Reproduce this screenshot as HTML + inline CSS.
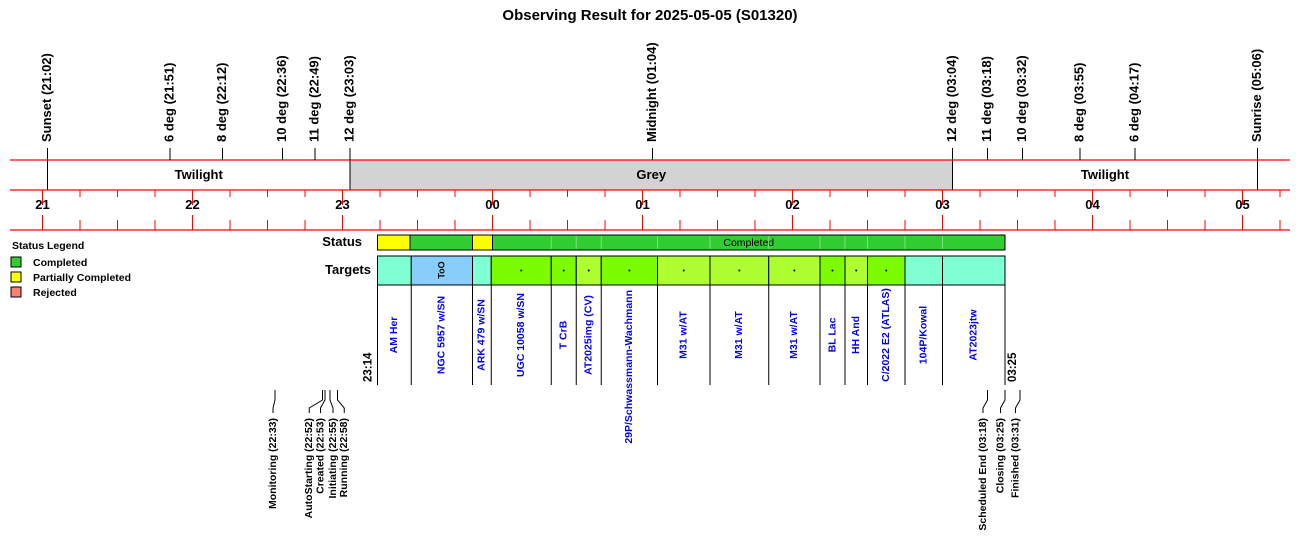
<!DOCTYPE html>
<html><head><meta charset="utf-8">
<style>
body{margin:0;background:#fff;}
svg{display:block;font-family:"Liberation Sans",Arial,sans-serif;}
</style></head>
<body>
<svg id="chart" width="1300" height="560">
<text x="650" y="20" text-anchor="middle" font-size="15" font-weight="bold">Observing Result for 2025-05-05 (S01320)</text>
<g id="legend">
<text x="12" y="249" font-size="10.5" font-weight="bold">Status Legend</text>
<rect x="11" y="257" width="10" height="10" fill="#32CD32" stroke="#000"/>
<text x="33" y="266" font-size="10.5" font-weight="bold">Completed</text>
<rect x="11" y="272" width="10" height="10" fill="#FFFF00" stroke="#000"/>
<text x="33" y="281" font-size="10.5" font-weight="bold">Partially Completed</text>
<rect x="11" y="287" width="10" height="10" fill="#FA8072" stroke="#000"/>
<text x="33" y="296" font-size="10.5" font-weight="bold">Rejected</text>
</g>
<text x="362" y="246" text-anchor="end" font-size="13" font-weight="bold">Status</text>
<text x="371" y="274" text-anchor="end" font-size="13" font-weight="bold">Targets</text>
</svg>
<script>
// time in minutes since 21:00
const hourLabels = ["21","22","23","00","01","02","03","04","05"];
const sunEvents = [["Sunset (21:02)",2],["6 deg (21:51)",51],["8 deg (22:12)",72],["10 deg (22:36)",96],["11 deg (22:49)",109],["12 deg (23:03)",123],["Midnight (01:04)",244],["12 deg (03:04)",364],["11 deg (03:18)",378],["10 deg (03:32)",392],["8 deg (03:55)",415],["6 deg (04:17)",437],["Sunrise (05:06)",486]];
const phases = [["Twilight",2,123,"#fff"],["Grey",123,364,"#D3D3D3"],["Twilight",364,486,"#fff"]];
const statusSegs = [[134,147,"#FFFF00",""],[147,172,"#32CD32",""],[172,180,"#FFFF00",""],[180,385,"#32CD32","Completed"]];
const targetNames = ["AM Her","NGC 5957 w/SN","ARK 479 w/SN","UGC 10058 w/SN","T CrB","AT2025img (CV)","29P/Schwassmann-Wachmann","M31 w/AT","M31 w/AT","M31 w/AT","BL Lac","HH And","C/2022 E2 (ATLAS)","104P/Kowal","AT2023jtw"];
const targetStarts = [134,147.5,172,179.5,203.5,213.5,223.5,246,267,290.5,311,321,330,345,360];
const targetEnd = 385;
const targetKinds = ["base","too","base","lg","lg","gy","lg","gy","gy","gy","lg","gy","lg","base","base"];
const eventsLow = [["Monitoring (22:33)",93,93],["AutoStarting (22:52)",112,107.5],["Created (22:53)",113,112],["Initiating (22:55)",115,117],["Running (22:58)",118,121.5],["Scheduled End (03:18)",378,377],["Closing (03:25)",385,384],["Finished (03:31)",391,390]];
const obsStart = ["23:14",134], obsEnd = ["03:25",385];

const svg = document.getElementById('chart');
const NS = "http://www.w3.org/2000/svg";
const X = m => 42.5 + 2.5*m;
function mk(tag, attrs, parent){const e=document.createElementNS(NS,tag);for(const k in attrs)e.setAttribute(k,attrs[k]);(parent||svg).appendChild(e);return e;}
function vtext(x,y,str,anchor,size,fill){const t=mk('text',{transform:`translate(${x},${y}) rotate(-90)`,'text-anchor':anchor,'font-size':size,'font-weight':'bold',fill:fill||'#000','dominant-baseline':'middle'});t.textContent=str;return t;}

// phase row
phases.forEach(p=>{
  const r=mk('rect',{x:X(p[1]),y:160,width:X(p[2])-X(p[1]),height:30,fill:p[3]});
  
  
  const t=mk('text',{x:(X(p[1])+X(p[2]))/2,y:179,'text-anchor':'middle','font-size':13,'font-weight':'bold'});t.textContent=p[0];
  
  
});
[2,123,364,486].forEach(m=>{const l=mk('line',{x1:X(m),x2:X(m),y1:160,y2:190,stroke:'#000'});
  
  });
[160,190,230].forEach(y=>{const l=mk('line',{x1:10,x2:1290,y1:y,y2:y,stroke:'#f00','stroke-width':1.2});
  
  });
// sun events
sunEvents.forEach(e=>{
  const l=mk('line',{x1:X(e[1]),x2:X(e[1]),y1:148,y2:160,stroke:'#000'});
  
  
  const t=vtext(X(e[1]),142,e[0],'start',13);
  
  
});
// time axis ticks
for(let q=-3;q<=34;q++){
  const m=q*15, x=X(m); if(x<10||x>1290) continue;
  const major=q%4===0;
  const a=mk('line',{x1:x,x2:x,y1:190,y2:major?205:197,stroke:'#f00'});
  
  
  const b=mk('line',{x1:x,x2:x,y1:major?215:220,y2:230,stroke:'#f00'});
  
  
}
hourLabels.forEach((h,i)=>{const t=mk('text',{x:X(i*60),y:209,'text-anchor':'middle','font-size':13,'font-weight':'bold'});t.textContent=h;
  
  });
// status bar
statusSegs.forEach(s=>{
  const r=mk('rect',{x:X(s[0]),y:235,width:X(s[1])-X(s[0]),height:15,fill:s[2],stroke:'#000'});
  
  
  if(s[3]){const t=mk('text',{x:(X(s[0])+X(s[1]))/2,y:246,'text-anchor':'middle','font-size':10.5});t.textContent=s[3];
    
    }
});
targetStarts.forEach((s,i)=>{if(X(s)>X(180)+1){const l=mk('line',{x1:X(s),x2:X(s),y1:236,y2:249,stroke:'#7ee07e'});
  
  }});
// targets
const kindColor={base:'#7FFFD4',too:'#87CEFA',lg:'#7CFC00',gy:'#ADFF2F'};
targetNames.forEach((n,i)=>{
  const s=targetStarts[i], e=i+1<targetStarts.length?targetStarts[i+1]:targetEnd;
  const x0=X(s), x1=X(e), cx=(x0+x1)/2;
  const r=mk('rect',{x:x0,y:256,width:x1-x0,height:29,fill:kindColor[targetKinds[i]],stroke:'#000'});
  
  
  if(targetKinds[i]==='too'){const t=vtext(cx,270,'ToO','middle',9);
    
    }
  if(targetKinds[i]==='lg'||targetKinds[i]==='gy'){const c=mk('circle',{cx:cx,cy:270.5,r:1,fill:'#000'});
    
    }
  const l=mk('line',{x1:x0,x2:x0,y1:285,y2:385,stroke:'#000'});
  
  
  const long=n.length>20;
  const t=vtext(cx,long?290:335,n,long?'end':'middle',10.5,'#0000ee');
  
  
});
{const l=mk('line',{x1:X(targetEnd),x2:X(targetEnd),y1:285,y2:385,stroke:'#000'});
  
  }
{const a=vtext(X(obsStart[1])-9,382,obsStart[0],'start',11.5);
  
  
 const b=vtext(X(obsEnd[1])+8,382,obsEnd[0],'start',11.5);
  
  }
// lower events
eventsLow.forEach(e=>{
  const x=X(e[1]), tx=e[2]*2.5+42.5-2;
  const p=mk('polyline',{points:`${x},390 ${x},400 ${tx},408 ${tx},413`,fill:'none',stroke:'#000'});
  
  
  const t=vtext(tx,418,e[0],'end',10.5);
  
  
});
</script>
</body></html>
